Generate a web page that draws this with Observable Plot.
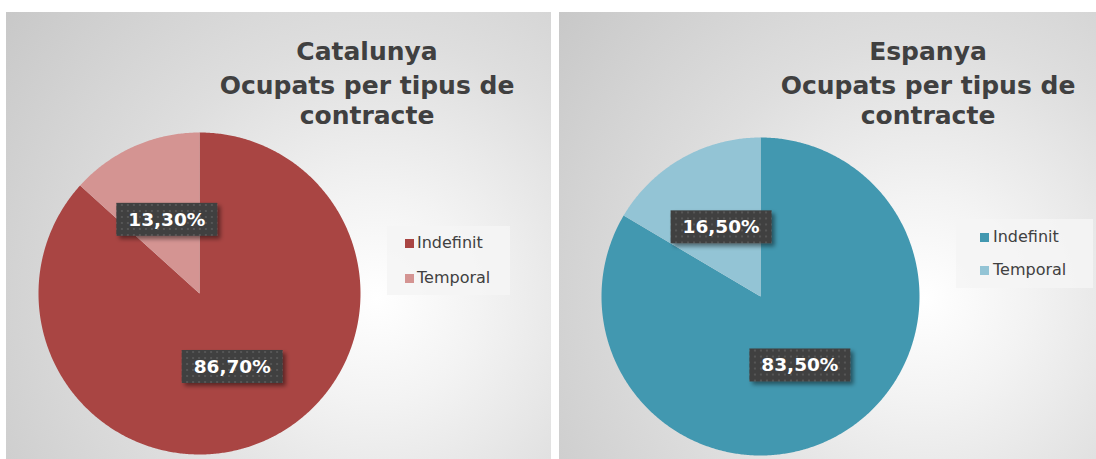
<!DOCTYPE html>
<html><head><meta charset="utf-8">
<script src="https://cdn.jsdelivr.net/npm/d3@7"></script>
<script src="https://cdn.jsdelivr.net/npm/@observablehq/plot@0.6"></script>
<style>
body{margin:0;background:#fff;font-family:"DejaVu Sans",Verdana,sans-serif;}
#wrap{position:relative;width:1096px;height:459px;overflow:hidden;background:#fff;}
.panel{position:absolute;top:12px;height:447px;background:radial-gradient(circle farthest-corner at 68% 64%, #ffffff 0%, #f3f3f3 22%, #dedede 55%, #c8c8c8 100%);}
.panel svg{position:absolute;left:0;top:0;}
.tline{position:absolute;transform:translateX(-50%);white-space:nowrap;font-weight:bold;font-size:25px;line-height:25px;color:#404040;}
.legend{position:absolute;background:rgba(244,244,244,0.85);}
.litem{position:absolute;white-space:nowrap;font-size:16px;line-height:16px;color:#404040;}
.sw{position:absolute;width:9px;height:9px;}
</style></head>
<body><div id="wrap"></div>
<script>
const regions = ["Catalunya", "Espanya"];
const subtitle = ["Ocupats per tipus de", "contracte"];
const categories = ["Indefinit", "Temporal"];
const catalunyaValues = [86.7, 13.3];
const espanyaValues = [83.5, 16.5];
const catalunyaColors = ["#a94543", "#d49492"];
const espanyaColors = ["#4298b0", "#93c4d5"];

const panels = [
  {name: regions[0], values: catalunyaValues, colors: catalunyaColors, left: 6, width: 545, cx: 193, cy: 281, r: 161,
   titleX: 361, legend: {x: 381, y: 214, w: 123, h: 69, sx: 18, r1: 17.5, dy: 35, gap: 3}},
  {name: regions[1], values: espanyaValues, colors: espanyaColors, left: 559, width: 537, cx: 201, cy: 284, r: 159,
   titleX: 369, legend: {x: 397, y: 207, w: 137, h: 69, sx: 24, r1: 18.5, dy: 33, gap: 4}}
];

function slicePoints(values) {
  const total = d3.sum(values);
  let acc = 0;
  const pts = [], lbls = [];
  values.forEach((v, i) => {
    const a0 = acc / total * 2 * Math.PI; acc += v;
    const a1 = acc / total * 2 * Math.PI;
    const n = Math.max(4, Math.ceil((a1 - a0) / (2 * Math.PI) * 720));
    pts.push({tipus: categories[i], px: 0, py: 0});
    for (let k = 0; k <= n; k++) {
      const a = a0 + (a1 - a0) * k / n;
      pts.push({tipus: categories[i], px: Math.sin(a), py: Math.cos(a)});
    }
    const am = (a0 + a1) / 2;
    lbls.push({tipus: categories[i], px: 0.5 * Math.sin(am), py: 0.5 * Math.cos(am),
      label: v.toFixed(2).replace(".", ",") + "%"});
  });
  return {pts, lbls};
}

const wrap = document.getElementById("wrap");
panels.forEach((p, pi) => {
  const div = document.createElement("div");
  div.className = "panel";
  div.style.left = p.left + "px";
  div.style.width = p.width + "px";
  wrap.appendChild(div);
  const H = 447;
  const {pts, lbls} = slicePoints(p.values);
  const svg = Plot.plot({
    width: p.width, height: H, margin: 0,
    style: {background: "transparent", overflow: "visible"},
    x: {domain: [-1, 1], range: [p.cx - p.r, p.cx + p.r], axis: null},
    y: {domain: [-1, 1], range: [p.cy + p.r, p.cy - p.r], axis: null},
    color: {domain: categories, range: p.colors},
    marks: [
      Plot.line(pts, {x: "px", y: "py", z: "tipus", fill: "tipus", stroke: "none"}),
      Plot.text(lbls, {x: "px", y: "py", text: "label", fill: "white", fontSize: 18.5,
        fontWeight: "bold", fontFamily: "DejaVu Sans", className: "lbl"})
    ]
  });
  div.appendChild(svg);
  // defs for label boxes
  const ns = "http://www.w3.org/2000/svg";
  const defs = document.createElementNS(ns, "defs");
  defs.innerHTML = `<pattern id="dots${pi}" width="6" height="6" patternUnits="userSpaceOnUse">
      <rect width="6" height="6" fill="#3f3f3f"/><rect x="2" y="2" width="2" height="2" fill="#575757"/></pattern>
    <filter id="sh${pi}" x="-20%" y="-30%" width="150%" height="180%">
      <feDropShadow dx="3" dy="3" stdDeviation="2.2" flood-color="#000" flood-opacity="0.45"/></filter>`;
  svg.insertBefore(defs, svg.firstChild);
  svg.querySelectorAll("g.lbl text, g[aria-label='text'] text").forEach(t => {
    const b = t.getBBox();
    const rect = document.createElementNS(ns, "rect");
    const w = b.width + 24, h = 33;
    rect.setAttribute("x", b.x + b.width / 2 - w / 2);
    rect.setAttribute("y", b.y + b.height / 2 - h / 2);
    rect.setAttribute("width", w);
    rect.setAttribute("height", h);
    rect.setAttribute("fill", `url(#dots${pi})`);
    rect.setAttribute("filter", `url(#sh${pi})`);
    if (t.getAttribute("transform")) rect.setAttribute("transform", t.getAttribute("transform"));
    t.parentNode.insertBefore(rect, t);
  });
  // title
  const lines = [p.name, ...subtitle];
  const tops = [27, 61, 91];
  lines.forEach((s, i) => {
    const d = document.createElement("div");
    d.className = "tline";
    d.textContent = s;
    d.style.left = p.titleX + "px";
    d.style.top = tops[i] + "px";
    div.appendChild(d);
  });
  // legend
  const L = p.legend;
  const lg = document.createElement("div");
  lg.className = "legend";
  Object.assign(lg.style, {left: L.x + "px", top: L.y + "px", width: L.w + "px", height: L.h + "px"});
  categories.forEach((c, i) => {
    const cyy = L.r1 + i * L.dy;
    const sw = document.createElement("div");
    sw.className = "sw";
    Object.assign(sw.style, {left: L.sx + "px", top: (cyy - 4.5) + "px", background: p.colors[i]});
    lg.appendChild(sw);
    const tx = document.createElement("div");
    tx.className = "litem";
    tx.textContent = c;
    Object.assign(tx.style, {left: (L.sx + 9 + L.gap) + "px", top: (cyy - 9) + "px"});
    lg.appendChild(tx);
  });
  div.appendChild(lg);
});
</script>
</body></html>
